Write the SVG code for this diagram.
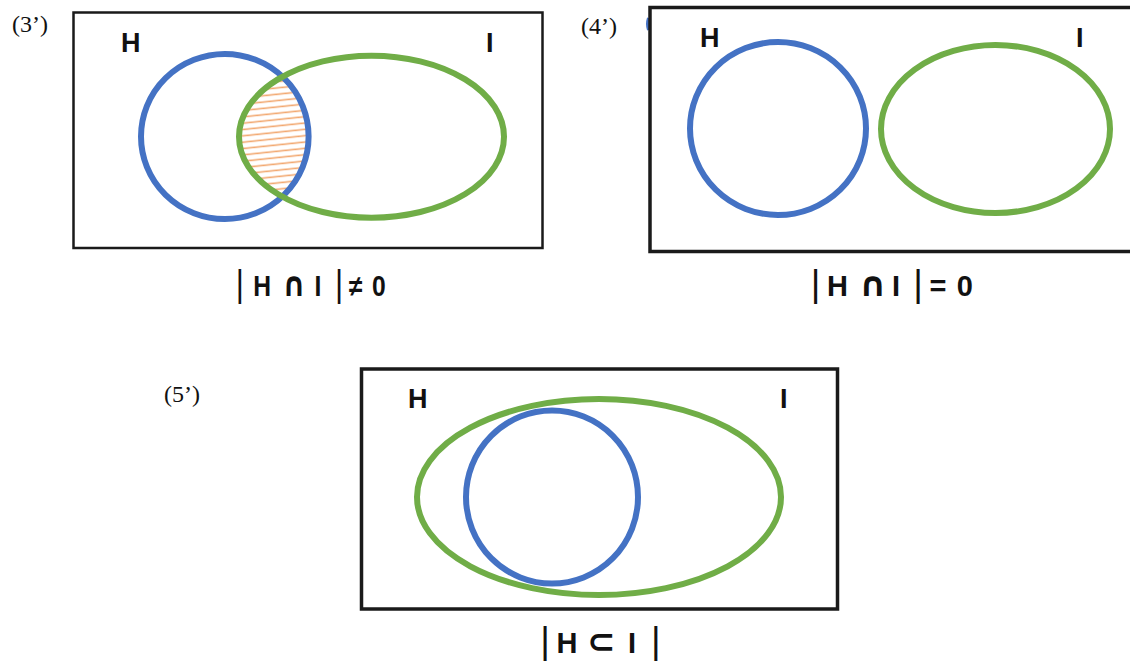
<svg xmlns="http://www.w3.org/2000/svg" width="1130" height="662" viewBox="0 0 1130 662">
  <style>
    .frame { fill: none; stroke: #1a1a1a; }
    .blue { fill: none; stroke: #4472C4; stroke-width: 6; }
    .green { fill: none; stroke: #70AD47; stroke-width: 6; }
    .num { font-family: "Liberation Serif", "Times New Roman", serif; font-size: 24px; fill: #111; }
    .set { font-family: "Liberation Sans", Arial, sans-serif; font-size: 27px; font-weight: bold; fill: #111; }
    .lbl { font-family: "Liberation Sans", "DejaVu Sans", Arial, sans-serif; font-size: 29px; font-weight: bold; fill: #111; }
    .bar { font-weight: normal; font-size: 37px; }
    .op { font-family: "DejaVu Sans", sans-serif; font-size: 34px; font-weight: 600; }
  </style>
  <defs>
    <pattern id="hatch" patternUnits="userSpaceOnUse" width="40" height="6.3" patternTransform="rotate(-6)">
      <line x1="0" y1="3" x2="40" y2="3" stroke="#F2A870" stroke-width="1.6"/>
    </pattern>
    <clipPath id="clipBlue3">
      <ellipse cx="224.8" cy="136.5" rx="83.8" ry="82.5"/>
    </clipPath>
  </defs>

  <rect width="1130" height="662" fill="#ffffff"/>

  <g id="panel-3">
    <text class="num" x="12" y="32">(3’)</text>
    <rect class="frame" x="73.5" y="12.5" width="469" height="235.5" stroke-width="2.5"/>
    <text class="set" x="121" y="52">H</text>
    <text class="set" x="486" y="52">I</text>
    <g id="intersection-3" clip-path="url(#clipBlue3)">
      <ellipse cx="371.5" cy="136.7" rx="132.5" ry="81" fill="url(#hatch)"/>
    </g>
    <ellipse id="H3" class="blue" cx="224.8" cy="136.5" rx="83.8" ry="82.5"/>
    <ellipse id="I3" class="green" cx="371.5" cy="136.7" rx="132.5" ry="81"/>
    <text class="lbl" transform="translate(0,296) scale(0.85,1)"><tspan class="bar" x="277.5">|</tspan><tspan x="297.9">H</tspan><tspan class="op" x="332.2">∩</tspan><tspan x="369.9">I</tspan><tspan class="bar" x="394">|</tspan><tspan x="410.6">≠</tspan><tspan x="437.6">0</tspan></text>
  </g>

  <g id="panel-4">
    <text class="num" x="581" y="33.5">(4’)</text>
    <path d="M648.5,18 Q646.5,24 648.5,30" fill="none" stroke="#4472C4" stroke-width="3"/>
    <rect class="frame" x="650" y="7.5" width="500" height="244" stroke-width="3.5"/>
    <text class="set" x="700" y="47">H</text>
    <text class="set" x="1076" y="47">I</text>
    <ellipse id="H4" class="blue" cx="778" cy="128.5" rx="88" ry="86.5" stroke-width="5.5"/>
    <ellipse id="I4" class="green" cx="995.5" cy="129" rx="114.5" ry="84" stroke-width="5.5"/>
    <text class="lbl" transform="translate(0,296)"><tspan class="bar" x="810.8">|</tspan><tspan x="826.9">H</tspan><tspan class="op" x="859">∩</tspan><tspan x="892.1">I</tspan><tspan class="bar" x="913.2">|</tspan><tspan x="929.5">=</tspan><tspan x="956.8">0</tspan></text>
  </g>

  <g id="panel-5">
    <text class="num" x="164" y="402">(5’)</text>
    <rect class="frame" x="361.5" y="369" width="476" height="240" stroke-width="3.5"/>
    <text class="set" x="408" y="408">H</text>
    <text class="set" x="780" y="408">I</text>
    <ellipse id="I5" class="green" cx="599" cy="497" rx="182" ry="98" stroke-width="5.5"/>
    <ellipse id="H5" class="blue" cx="552" cy="497" rx="86" ry="86.5" stroke-width="5.5"/>
    <text class="lbl" transform="translate(0,653)"><tspan class="bar" x="540.2">|</tspan><tspan x="556.4">H</tspan><tspan class="op" x="587" font-size="29" font-weight="normal">⊂</tspan><tspan x="628.1">I</tspan><tspan class="bar" x="651">|</tspan></text>
  </g>
</svg>
